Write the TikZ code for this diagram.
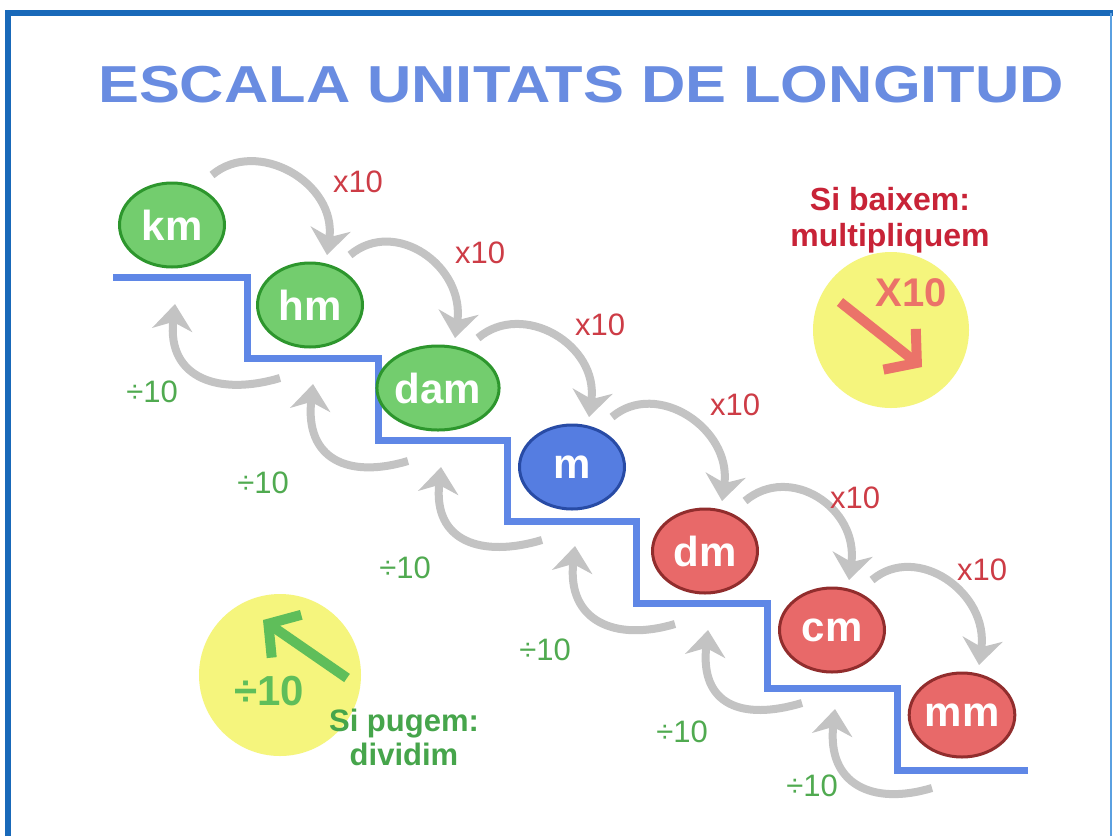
\documentclass[tikz,border=0pt]{standalone}
\usepackage{fontspec}
\setmainfont{Liberation Sans}
\usetikzlibrary{arrows.meta, shapes.geometric}
\definecolor{frameColor}{RGB}{25,105,185}
\definecolor{frameLight}{RGB}{90,160,225}
\definecolor{titleColor}{RGB}{105,140,225}
\definecolor{stairColor}{RGB}{95,135,230}
\definecolor{arrowGray}{RGB}{195,195,195}
\definecolor{greenFill}{RGB}{115,205,110}
\definecolor{greenLine}{RGB}{45,150,45}
\definecolor{blueFill}{RGB}{85,125,225}
\definecolor{blueLine}{RGB}{40,75,165}
\definecolor{redFill}{RGB}{232,105,105}
\definecolor{redLine}{RGB}{145,45,45}
\definecolor{mulColor}{RGB}{205,60,70}
\definecolor{divColor}{RGB}{80,170,80}
\definecolor{hintYellow}{RGB}{245,245,125}
\definecolor{hintRed}{RGB}{235,115,105}
\definecolor{hintRedText}{RGB}{200,35,55}
\definecolor{hintGreen}{RGB}{95,190,90}
\definecolor{hintGreenText}{RGB}{70,165,75}
\tikzstyle{pixels} = [x = 1pt, y = -1pt]
\tikzstyle{unitBall} = [ellipse, minimum width = 105pt, minimum height = 84pt, inner sep = 0pt, line width = 3pt, text = white, font = \fontsize{42}{42}\selectfont\bfseries]
\tikzstyle{stairLine} = [color = stairColor, line width = 7pt]
\tikzstyle{mulArrow} = [color = arrowGray, line width = 8pt, -{Stealth[length = 26pt, width = 40pt, inset = 8pt]}]
\tikzstyle{divArrow} = [mulArrow]
\tikzstyle{mulText} = [color = mulColor, font = \fontsize{31}{31}\selectfont]
\tikzstyle{divText} = [color = divColor, font = \fontsize{31}{31}\selectfont]
\tikzstyle{hintArrow} = [line width = 10pt, -{Straight Barb[length = 22pt, width = 52pt]}]
\newcommand{\unitBall}[5]{\node [unitBall, fill = #4Fill, draw = #4Line] (#1) at (#2, #3) {#5};}
\newcommand{\mulStep}[2]{\draw [mulArrow] ([shift = {(40,-50)}]#1.center) .. controls +(45,-38) and +(10,-72) .. ([shift = {(17,-50)}]#2.center);}
\newcommand{\divStep}[2]{\draw [divArrow] ([shift = {(-30,73)}]#2.center) .. controls +(-60,18) and +(-8,75) .. ([shift = {(3,79)}]#1.center);}

\begin{document}
\begin{tikzpicture}[pixels]
  \useasboundingbox (0,0) rectangle (1113,836);
  \fill [white] (0,0) rectangle (1113,836);
  % frame
  \draw [frameColor, line width = 6pt] (8,836) -- (8,13) -- (1113,13);
  \draw [frameLight, line width = 2pt] (1111,13) -- (1111,836);
  \node [anchor = base, xscale = 1.18, color = titleColor, font = \fontsize{52}{52}\selectfont\bfseries] (title) at (581,102) {ESCALA UNITATS DE LONGITUD};

  % stairs
  \draw [stairLine] (113,277) -- (247,277) -- (247,358) -- (378,358) -- (378,440) -- (507,440) -- (507,521)
    -- (636,521) -- (636,603) -- (767,603) -- (767,688) -- (897,688) -- (897,770) -- (1028,770);

  % hints
  \node [circle, fill = hintYellow, minimum size = 156pt] (downHint) at (891,330) {};
  \node [circle, fill = hintYellow, minimum size = 162pt] (upHint) at (280,675) {};
  \coordinate (downFrom) at (840,302);
  \coordinate (downTo) at (922,367);
  \coordinate (upFrom) at (347,678);
  \coordinate (upTo) at (263,620);
  \draw [hintArrow, hintRed] (downFrom) -- (downTo);
  \draw [hintArrow, hintGreen] (upFrom) -- (upTo);
  \node [color = hintRed, font = \fontsize{40}{40}\selectfont\bfseries] (downSign) at (911,293) {X10};
  \node [color = hintGreen, font = \fontsize{42}{42}\selectfont\bfseries] (upSign) at (269,691) {÷10};
  \node [align = center, color = hintRedText, font = \fontsize{32}{36}\selectfont\bfseries] (downNote) at (890,220) {Si baixem:\\multipliquem};
  \node [align = center, color = hintGreenText, font = \fontsize{31}{34}\selectfont\bfseries] (upNote) at (404,737) {Si pugem:\\dividim};

  % units
  \unitBall{km}{172}{225}{green}{km}
  \unitBall{hm}{310}{305}{green}{hm}
  \unitBall{dam}{438}{388}{green}{dam}
  \unitBall{m}{572}{467}{blue}{m}
  \unitBall{dm}{705}{551}{red}{dm}
  \unitBall{cm}{832}{630}{red}{cm}
  \unitBall{mm}{962}{715}{red}{mm}

  % arrows
  \foreach \upper/\lower in {km/hm, hm/dam, dam/m, m/dm, dm/cm, cm/mm} {
    \mulStep{\upper}{\lower}
    \divStep{\upper}{\lower}
  }
  \foreach \x/\y [count = \i] in {358/182, 480/253, 600/325, 735/405, 855/498, 982/570} {
    \node [mulText] (mulLabel\i) at (\x, \y) {x10};
  }
  \foreach \x/\y [count = \i] in {152/392, 263/483, 405/568, 545/650, 682/732, 812/786} {
    \node [divText] (divLabel\i) at (\x, \y) {÷10};
  }
\end{tikzpicture}
\end{document}
